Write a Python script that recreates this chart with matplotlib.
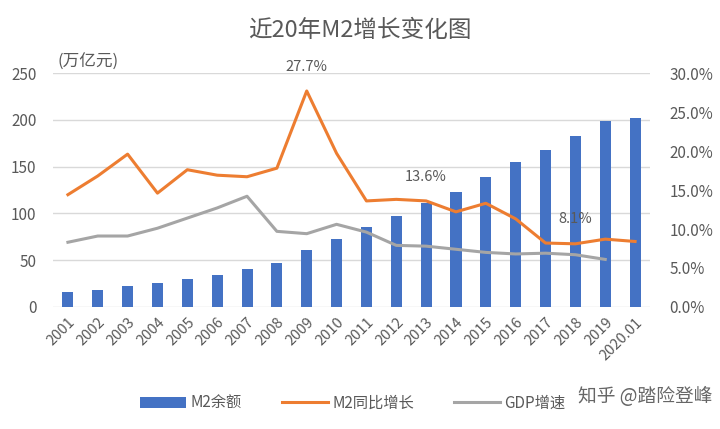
import matplotlib
matplotlib.use("Agg")
import matplotlib.pyplot as plt
from matplotlib.ticker import FuncFormatter

plt.rcParams['font.family'] = ['Noto Sans CJK SC', 'DejaVu Sans']

years = ["2001", "2002", "2003", "2004", "2005", "2006", "2007", "2008", "2009", "2010",
         "2011", "2012", "2013", "2014", "2015", "2016", "2017", "2018", "2019", "2020.01"]
m2_balance = [15.8, 18.5, 22.1, 25.3, 29.9, 34.6, 40.3, 47.5, 60.6, 72.6,
              85.2, 97.4, 110.7, 122.8, 139.2, 155.0, 167.7, 182.7, 198.6, 202.3]
m2_growth = [14.4, 16.8, 19.6, 14.6, 17.6, 16.9, 16.7, 17.8, 27.7, 19.7,
             13.6, 13.8, 13.6, 12.2, 13.3, 11.3, 8.2, 8.1, 8.7, 8.4]
gdp_growth = [8.3, 9.1, 9.1, 10.1, 11.4, 12.7, 14.2, 9.7, 9.4, 10.6,
              9.6, 7.9, 7.8, 7.4, 7.0, 6.8, 6.9, 6.7, 6.1]
labels = ["M2余额", "M2同比增长", "GDP增速"]
annotations = [(8, "27.7%"), (12, "13.6%"), (17, "8.1%")]

blue = "#4472C4"
orange = "#ED7D31"
gray = "#A5A5A5"
text_c = "#595959"

fig = plt.figure(figsize=(7.2, 4.29), dpi=100)
ax = fig.add_axes([0.0736, 0.2844, 0.8292, 0.5454])
ax2 = ax.twinx()

x = list(range(len(years)))
bars = ax.bar(x, m2_balance, width=0.37, color=blue, zorder=2, label=labels[0])
ax.set_ylim(0, 250)
ax.set_yticks([0, 50, 100, 150, 200, 250])
ax.set_xlim(-0.5, len(years) - 0.5)
ax.grid(axis='y', color='#D9D9D9', linewidth=1, zorder=0)
ax.set_axisbelow(True)

l1, = ax2.plot(x, m2_growth, color=orange, linewidth=2.2, label=labels[1])
l2, = ax2.plot(x[:len(gdp_growth)], gdp_growth, color=gray, linewidth=2.2, label=labels[2])
ax2.set_ylim(0, 30)
ax2.set_yticks([0, 5, 10, 15, 20, 25, 30])
ax2.yaxis.set_major_formatter(FuncFormatter(lambda v, p: f"{v:.1f}%"))

for (i, t), dy in zip(annotations, [12, 12, 13]):
    ax2.annotate(t, (i, m2_growth[i]), xytext=(0, dy), textcoords='offset points',
                 color=text_c, fontsize=10.5, ha='center', va='bottom')

ax.set_xticks(x)
ax.set_xticklabels(years, rotation=45, ha='right', rotation_mode='anchor')

for a in (ax, ax2):
    for s in a.spines.values():
        s.set_visible(False)
    a.tick_params(length=0, colors=text_c, labelsize=11)
ax.tick_params(axis='x', labelsize=10.5, pad=6)
ax.tick_params(axis='y', pad=12)
ax2.tick_params(axis='y', pad=14)

fig.text(0.5, 0.93, "近20年M2增长变化图", ha='center', va='center', fontsize=17, color=text_c)
fig.text(0.08, 0.855, "(万亿元)", ha='left', va='center', fontsize=12, color=text_c)

fig.legend(handles=[bars, l1, l2], labels=labels, loc='center', bbox_to_anchor=(0.49, 0.06),
           ncol=3, frameon=False, fontsize=11, labelcolor=text_c, handlelength=3,
           columnspacing=2.6, handletextpad=0.3)
fig.text(0.99, 0.075, "知乎 @踏险登峰", ha='right', va='center', fontsize=13.5, color="#666666")

fig.savefig("out.png", dpi=100, facecolor='white')
